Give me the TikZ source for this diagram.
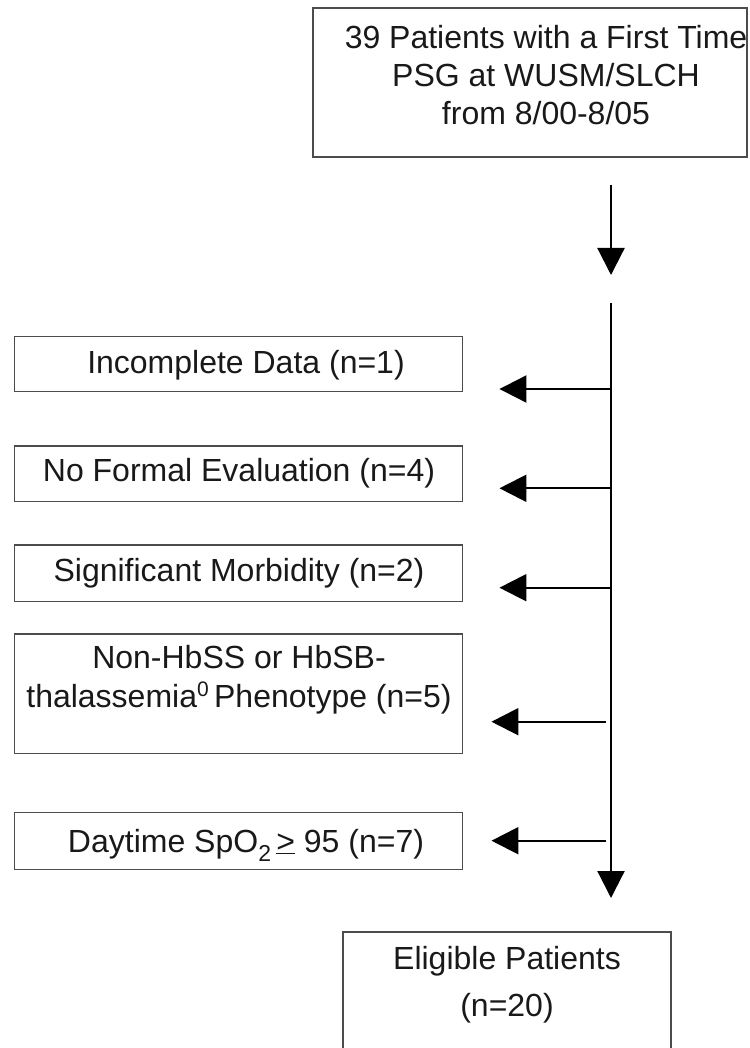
\documentclass[tikz,border=0pt]{standalone}
\usepackage{fontspec}
\setmainfont{Liberation Sans}
\usetikzlibrary{arrows.meta}

\newcommand{\supz}[1]{\raisebox{11pt}{\fontsize{21}{21}\selectfont #1}}
\newcommand{\subz}[1]{\raisebox{-9pt}{\fontsize{23}{23}\selectfont #1}}

\tikzset{
  box/.style={draw=black!70, line width=1.4pt, minimum width=448pt, inner sep=0pt},
  txt/.style={align=center, inner sep=0pt, text=black!90, font=\fontsize{32}{38}\selectfont},
  flow/.style={line width=2.2pt, -{Triangle[length=27pt,width=27pt]}},
}

\begin{document}
\begin{tikzpicture}[x=1pt,y=-1pt]
  \useasboundingbox (0,0) rectangle (749,1048);
  % boxes
  \node[box, minimum width=434pt, minimum height=149pt] (src) at (530,82.5) {};
  \node[box, minimum height=55pt] (incomp) at (238.25,364.2) {};
  \node[box, minimum height=55.7pt] (noeval) at (238.25,473.85) {};
  \node[box, minimum height=56.7pt] (morb) at (238.25,573.35) {};
  \node[box, minimum height=119.3pt] (pheno) at (238.25,693.65) {};
  \node[box, minimum height=56.6pt] (spo) at (238.25,841) {};
  \node[box, minimum width=328pt, minimum height=130pt] (elig) at (507,997) {};
  % texts
  \node[txt] (srctxt) at (546,75) {39 Patients with a First Time\\PSG at WUSM/SLCH\\from 8/00-8/05};
  \node[txt] (incomptxt) at (246,365) {Incomplete Data (n=1)};
  \node[txt] (noevaltxt) at (239,473) {No Formal Evaluation (n=4)};
  \node[txt] (morbtxt) at (239,573) {Significant Morbidity (n=2)};
  \node[txt, font=\fontsize{32}{39}\selectfont] (phenotxt) at (239,680)
    {Non-HbSS or HbSB-\\thalassemia\supz{0}\,Phenotype (n=5)};
  \node[txt, anchor=base] (spotxt) at (246,852) {Daytime SpO\subz{2}\,\underline{>} 95 (n=7)};
  \node[txt, font=\fontsize{32}{47}\selectfont] (eligtxt) at (507,985) {Eligible Patients\\(n=20)};
  % main flow
  \coordinate (a1) at (611,185);
  \coordinate (a2) at (611,275);
  \draw[flow] (a1) -- (a2);
  \coordinate (trunk) at (611,303);
  \coordinate (trunkend) at (611,898);
  \draw[flow] (trunk) -- (trunkend);
  % exclusions
  \foreach \bx/\ay/\sx/\gap in {incomp/389/611/36.5, noeval/488.3/611/36.5, morb/587.7/611/36.5,
                                pheno/721.7/606/28.5, spo/840.7/606/28.5}{
    \coordinate (from) at (\sx,\ay);
    \draw[flow, shorten >=\gap pt] (from) -- (from -| \bx.east);
  }
\end{tikzpicture}
\end{document}
